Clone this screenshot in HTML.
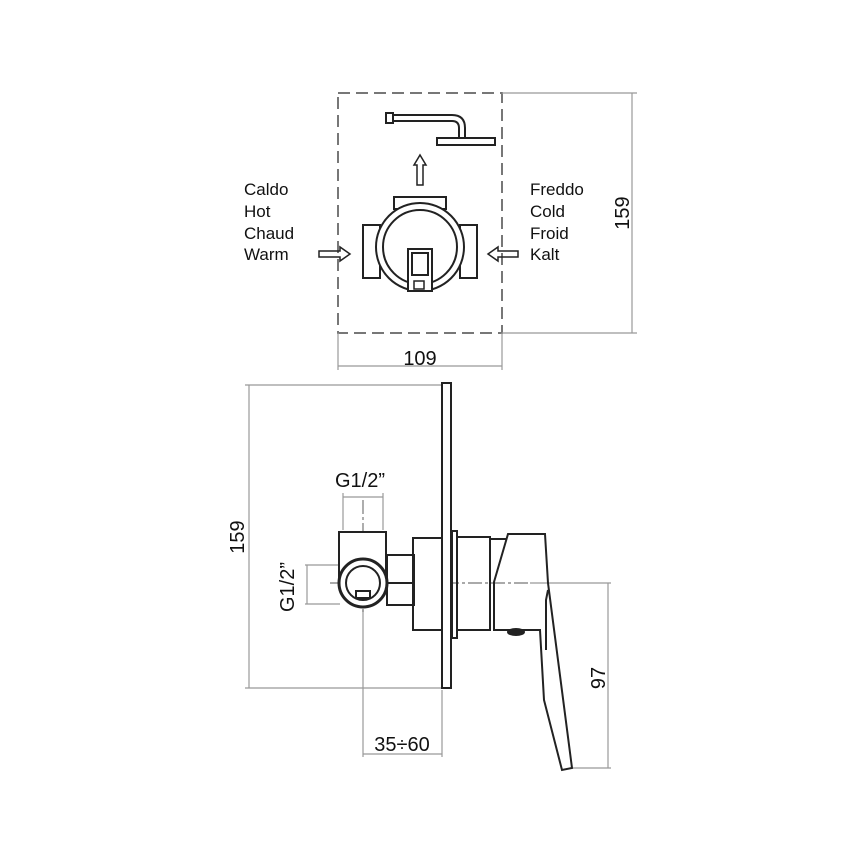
<!DOCTYPE html>
<html><head><style>body{margin:0;background:#fff}svg{display:block}text{font-family:"Liberation Sans",sans-serif;fill:#111}</style></head><body>
<svg width="865" height="865" viewBox="0 0 865 865" xmlns="http://www.w3.org/2000/svg">
<g fill="none" stroke="#555" stroke-width="1.2">
<rect x="338" y="93" width="164" height="240" stroke="#777" stroke-width="2" stroke-dasharray="12,6"/>
<line x1="502" y1="93" x2="637" y2="93" stroke="#999"/>
<line x1="502" y1="333" x2="637" y2="333" stroke="#999"/>
<line x1="632" y1="93" x2="632" y2="333" stroke="#999"/>
<line x1="338" y1="333" x2="338" y2="370" stroke="#999"/>
<line x1="502" y1="333" x2="502" y2="370" stroke="#999"/>
<line x1="338" y1="366" x2="502" y2="366" stroke="#999"/>
</g>
<g fill="none" stroke="#222" stroke-width="2">
<rect x="386" y="113" width="7" height="10"/>
<path d="M393 115 H452 Q465 115 465 128 V137 M393 121 H452 Q459 121 459 128 V137"/>
<rect x="437" y="138" width="58" height="7"/>
<path d="M417 185 V165 H414 L420 155 L426 165 H423 V185 Z" stroke-width="1.5"/>
<rect x="394" y="197" width="52" height="12"/>
<rect x="363" y="225" width="17" height="53"/>
<rect x="460" y="225" width="17" height="53"/>
<circle cx="420" cy="247" r="44" fill="#fff"/>
<circle cx="420" cy="247" r="37"/>
<rect x="408" y="249" width="24" height="42" fill="#fff"/>
<rect x="412" y="253" width="16" height="22"/>
<rect x="414" y="281" width="10" height="8" stroke-width="1.5"/>
<path d="M319 251 H340 V247 L350 254 L340 261 V257 H319 Z" stroke-width="1.5"/>
<path d="M518 251 H498 V247 L488 254 L498 261 V257 H518 Z" stroke-width="1.5"/>
</g>
<g font-size="17">
<text x="244" y="195">Caldo</text><text x="244" y="217">Hot</text><text x="244" y="239">Chaud</text><text x="244" y="260">Warm</text>
<text x="530" y="195">Freddo</text><text x="530" y="217">Cold</text><text x="530" y="239">Froid</text><text x="530" y="260">Kalt</text>
</g>
<text x="420" y="365" font-size="20" text-anchor="middle">109</text>
<text font-size="20" text-anchor="middle" transform="translate(629,213) rotate(-90)">159</text>

<g fill="none" stroke="#999" stroke-width="1.2">
<line x1="245" y1="385" x2="441" y2="385"/>
<line x1="245" y1="688" x2="446" y2="688"/>
<line x1="249" y1="385" x2="249" y2="688"/>
<line x1="343" y1="493" x2="343" y2="530"/>
<line x1="383" y1="493" x2="383" y2="530"/>
<line x1="343" y1="497" x2="383" y2="497"/>
<line x1="305" y1="565" x2="340" y2="565"/>
<line x1="305" y1="604" x2="340" y2="604"/>
<line x1="307" y1="565" x2="307" y2="604"/>
<line x1="363" y1="610" x2="363" y2="757"/>
<line x1="442" y1="690" x2="442" y2="757"/>
<line x1="363" y1="754" x2="442" y2="754"/>
<line x1="530" y1="583" x2="611" y2="583"/>
<line x1="570" y1="768" x2="611" y2="768"/>
<line x1="608" y1="583" x2="608" y2="768"/>
<line x1="330" y1="583" x2="530" y2="583" stroke="#777" stroke-dasharray="14,3,3,3"/>
<line x1="363" y1="500" x2="363" y2="612" stroke="#777" stroke-dasharray="14,3,3,3"/>
</g>
<g fill="none" stroke="#222" stroke-width="2">
<rect x="442" y="383" width="9" height="305" fill="#fff"/>
<rect x="452" y="531" width="5" height="107"/>
<rect x="413" y="538" width="29" height="92" fill="#fff"/>
<rect x="457" y="537" width="33" height="93"/>
<path d="M490 539 H506"/>
<path d="M494 630 L540 630 L544 700 L562 770 L572 768 L548 583 L545 534 L508 534 L494 582 Z"/>
<path d="M548 590 L546 600 L546 650"/>
<ellipse cx="516" cy="632" rx="8" ry="3" fill="#222"/>
<path d="M339 532 H386 V583 H339 Z" fill="#fff"/>
<rect x="387" y="555" width="27" height="50"/>
<line x1="387" y1="583" x2="414" y2="583"/>
<circle cx="363" cy="583" r="24" fill="#fff" stroke-width="3"/>
<circle cx="363" cy="583" r="17"/>
<rect x="356" y="591" width="14" height="7"/>
</g>
<text x="360" y="487" font-size="20" text-anchor="middle">G1/2”</text>
<text font-size="20" text-anchor="middle" transform="translate(294,587) rotate(-90)">G1/2”</text>
<text font-size="20" text-anchor="middle" transform="translate(244,537) rotate(-90)">159</text>
<text x="402" y="751" font-size="20" text-anchor="middle">35÷60</text>
<text font-size="20" text-anchor="middle" transform="translate(605,678) rotate(-90)">97</text>
</svg>
</body></html>
